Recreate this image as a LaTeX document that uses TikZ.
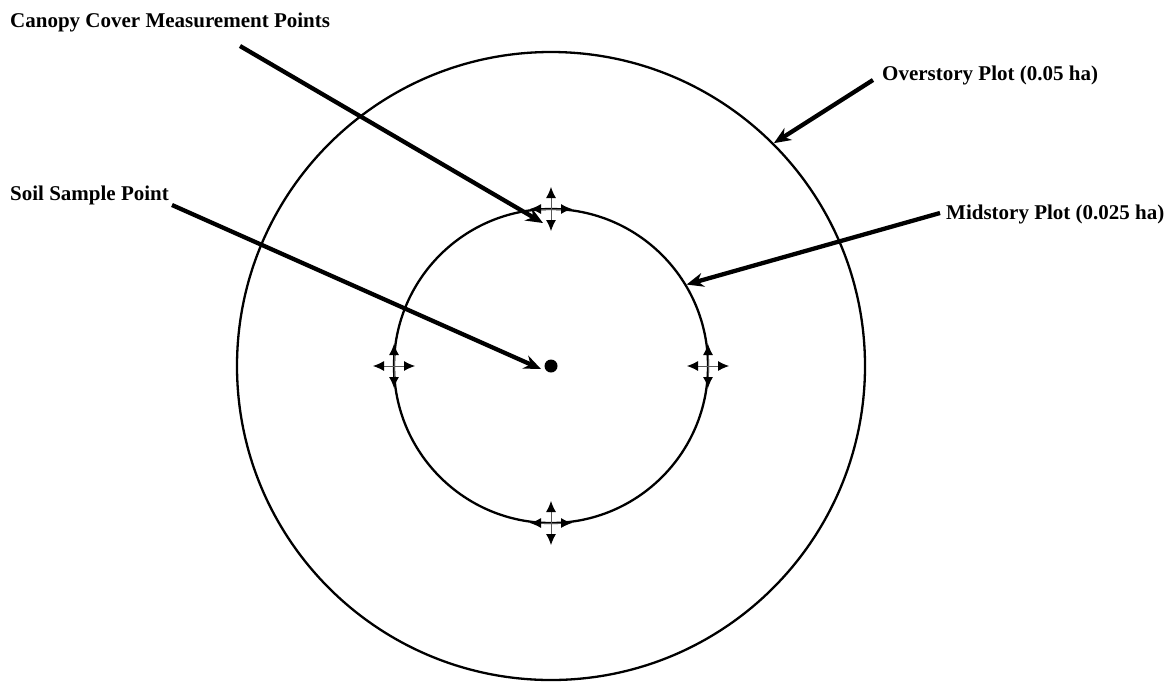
\documentclass[tikz,border=0pt]{standalone}
\usepackage{fontspec}
\setmainfont{Liberation Serif}
\usetikzlibrary{arrows.meta}

\begin{document}
\begin{tikzpicture}[
  x=1pt,y=-1pt,
  plot/.style={circle,draw,line width=2.3pt,inner sep=0pt},
  label/.style={font=\bfseries\fontsize{21}{24}\selectfont,anchor=west,inner sep=0pt},
  arrow/.style={-{Stealth[length=17pt,width=14pt]},line width=4.3pt},
  cross/.style={-{Latex[length=11pt,width=10pt,color=black]},line width=0.9pt,black!65}
]
\useasboundingbox (0,0) rectangle (1174,681);

% ===== PLOTS =====
\node[plot,minimum size=628pt] (over) at (551,366) {};
\node[plot,minimum size=314pt] (mid) at (551,366) {};

% Soil sample point
\node[circle,fill,inner sep=0pt,minimum size=13pt] (soil) at (551,366) {};

% Canopy cover measurement points
\coordinate (top) at (551,209);
\coordinate (left) at (394,366);
\coordinate (right) at (708,366);
\coordinate (bottom) at (551,523);

\foreach \p in {top,left,right,bottom} {
  \draw[cross] (\p) -- ++(0,-22);
  \draw[cross] (\p) -- ++(0,22);
  \draw[cross] (\p) -- ++(-21,0);
  \draw[cross] (\p) -- ++(21,0);
}

% ===== LABELS =====
\node[label] (canopy) at (10,22) {Canopy Cover Measurement Points};
\node[label] (soillab) at (10,195) {Soil Sample Point};
\node[label] (overlab) at (882,75) {Overstory Plot (0.05 ha)};
\node[label] (midlab) at (946,214) {Midstory Plot (0.025 ha)};

% Arrows
\draw[arrow] (240,46) -- ([xshift=-8pt,yshift=-14pt]top);
\draw[arrow] (172,205) -- ([xshift=-10pt,yshift=-3pt]soil.center);
\draw[arrow] (873,80) -- (over.45);
\draw[arrow] (940,213) -- (mid.31);

\end{tikzpicture}
\end{document}
